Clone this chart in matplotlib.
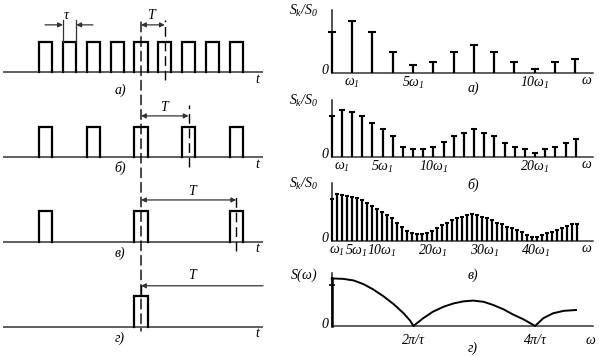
import matplotlib
matplotlib.use("Agg")
import matplotlib.pyplot as plt
from matplotlib.patches import ConnectionPatch

plt.rcParams['font.family'] = ['Liberation Serif', 'DejaVu Serif']
plt.rcParams['font.style'] = 'italic'
plt.rcParams['mathtext.fontset'] = 'custom'
plt.rcParams['mathtext.it'] = 'Liberation Serif:italic'
plt.rcParams['mathtext.rm'] = 'Liberation Serif:italic'

# left: pulse centres, in units of the period of a)
pulses_a = [-4, -3, -2, -1, 0, 1, 2, 3, 4]
pulses_b = [-4, -2, 0, 2, 4]
pulses_c = [-4, 0, 4]
pulses_d = [0]
tau = 0.56
periods = [1, 2, 4]

# right: line spectra S_k/S_0, k = 0, 1, 2, ...
spec_a = [1.0, 1.27, 1.0, 0.5, 0.18, 0.26, 0.5, 0.67, 0.5, 0.26, 0.09, 0.26, 0.34]
spec_b = [1.0, 1.15, 1.08, 1.0, 0.83, 0.67, 0.5, 0.24, 0.18, 0.18, 0.24, 0.37, 0.5,
          0.59, 0.67, 0.59, 0.5, 0.34, 0.24, 0.18, 0.08, 0.18, 0.24, 0.34, 0.42]
spec_c = [1.0, 1.12, 1.10, 1.09, 1.06, 1.02, 0.98, 0.90, 0.84, 0.76, 0.70, 0.62, 0.54,
          0.44, 0.33, 0.24, 0.19, 0.16, 0.16, 0.20, 0.25, 0.32, 0.38, 0.44, 0.50, 0.54,
          0.58, 0.62, 0.64, 0.62, 0.58, 0.54, 0.50, 0.44, 0.40, 0.34, 0.30, 0.26, 0.22,
          0.14, 0.10, 0.10, 0.14, 0.18, 0.22, 0.26, 0.32, 0.36, 0.40, 0.41]

# continuous spectrum of a single pulse (omega in units of 2pi/tau as drawn)
omega_d = [0.0, 0.14, 0.27, 0.39, 0.51, 0.63, 0.76, 0.88, 0.96, 1.0, 1.12, 1.24, 1.37,
           1.49, 1.61, 1.73, 1.86, 1.98, 2.10, 2.22, 2.35, 2.49, 2.59, 2.71, 2.84, 2.99]
S_d = [1.16, 1.15, 1.11, 1.02, 0.89, 0.73, 0.53, 0.31, 0.13, 0.0, 0.19, 0.35, 0.47,
       0.55, 0.60, 0.62, 0.59, 0.51, 0.41, 0.28, 0.16, 0.0, 0.19, 0.31, 0.37, 0.39]

ticks_a = [1, 4, 10]
labels_a = [r'$\omega_1$', r'$5\omega_1$', r'$10\omega_1$']
ticks_b = [1, 5, 10, 20]
labels_b = [r'$\omega_1$', r'$5\omega_1$', r'$10\omega_1$', r'$20\omega_1$']
ticks_c = [1, 5, 10, 20.3, 30.7, 40.9]
labels_c = [r'$\omega_1$', r'$5\omega_1$', r'$10\omega_1$', r'$20\omega_1$',
            r'$30\omega_1$', r'$40\omega_1$']
ticks_d = [1.0, 2.49]
labels_d = [r'$2\pi/\tau$', r'$4\pi/\tau$']

W, H = 599, 357
fig = plt.figure(figsize=(W / 100, H / 100), dpi=100)
FS = 10


def panel(x_left, x_right, x_origin, x_scale, y_base, y_scale, ylo, yhi):
    bottom = y_base - ylo * y_scale
    top = y_base - yhi * y_scale
    ax = fig.add_axes([x_left / W, 1 - bottom / H, (x_right - x_left) / W, (bottom - top) / H])
    ax.set_xlim((x_left - x_origin) / x_scale, (x_right - x_origin) / x_scale)
    ax.set_ylim(ylo, yhi)
    ax.axis('off')
    return ax


def note(ax, s, xy, dx=0, dy=0, ha='center', va='center', fs=FS):
    ax.annotate(s, xy=xy, xytext=(dx, dy), textcoords='offset pixels',
                ha=ha, va=va, fontsize=fs, annotation_clip=False)


def arrow(ax, start, end, style='-|>'):
    ax.annotate('', xy=end, xytext=start, annotation_clip=False,
                arrowprops=dict(arrowstyle=style, color='#333', lw=0.9,
                                mutation_scale=7, shrinkA=0, shrinkB=0))


# ---------------- left column: pulse trains ----------------
left_rows = [(72.3, 30.6), (157.3, 30.0), (241.7, 30.7), (326.7, 31.0)]
left_pulses = [pulses_a, pulses_b, pulses_c, pulses_d]
left_names = ['а)', 'б)', 'в)', 'г)']
left_name_dy = [-18, -11, -12, -12]
lax = []
for (base, sc), pulses, name, ndy in zip(left_rows, left_pulses, left_names, left_name_dy):
    ax = panel(3, 263, 141, 23.8, base, sc, -0.5, 2.0)
    x0, x1 = ax.get_xlim()
    ax.plot([x0, x1], [0, 0], color='#444', lw=1.2)
    for c in pulses:
        ax.plot([c - tau / 2, c - tau / 2, c + tau / 2, c + tau / 2], [0, 1, 1, 0],
                color='k', lw=1.6, solid_joinstyle='miter')
    note(ax, r'$t$', (4.92, 0), dy=-7)
    note(ax, name, (-0.88, 0), dy=ndy)
    lax.append(ax)

dash = (0, (7, 3.5))

# a) tau and T markers
ax = lax[0]
for e in (-3 - tau / 2, -3 + tau / 2):
    ax.plot([e, e], [1, 1.71], color='#333', lw=0.9, clip_on=False)
arrow(ax, (-4.03, 1.55), (-3 - tau / 2, 1.55))
arrow(ax, (-2.02, 1.55), (-3 + tau / 2, 1.55))
note(ax, r'$\tau$', (-3.11, 1.84))
ax.plot([periods[0], periods[0]], [-0.25, 1.71], color='k', lw=1, ls=dash, clip_on=False)
arrow(ax, (0, 1.55), (periods[0], 1.55), '<|-|>')
note(ax, r'$T$', (0.46, 1.87))

# b)
ax = lax[1]
ax.plot([periods[1], periods[1]], [-0.32, 1.74], color='k', lw=1, ls=dash, clip_on=False)
arrow(ax, (0, 1.38), (periods[1], 1.38), '<|-|>')
note(ax, r'$T$', (1.0, 1.68))

# c)
ax = lax[2]
ax.plot([periods[2], periods[2]], [-0.30, 1.59], color='k', lw=1, ls=dash, clip_on=False)
arrow(ax, (0, 1.36), (periods[2], 1.36), '<|-|>')
note(ax, r'$T$', (2.18, 1.64))

# d) period goes to infinity
ax = lax[3]
x1 = ax.get_xlim()[1]
arrow(ax, (x1, 1.32), (0, 1.32))
ax.plot([0, 0], [1, 1.32], color='k', lw=1, clip_on=False)
note(ax, r'$T$', (2.18, 1.67))

con = ConnectionPatch(xyA=(0, 1.64), coordsA=lax[0].transData,
                      xyB=(0, -0.14), coordsB=lax[3].transData,
                      color='k', lw=1, ls=dash)
fig.add_artist(con)

# ---------------- right column: spectra ----------------
right = [
    (spec_a, 20.3, 72.7, 41.0, 1.53, ticks_a, labels_a, 'а)', 16, 5.5, r'$S_k/S_0$'),
    (spec_b, 10.17, 156.7, 41.0, 1.38, ticks_b, labels_b, 'б)', 28, 4.5, r'$S_k/S_0$'),
    (spec_c, 5.0, 241.0, 41.7, 1.39, ticks_c, labels_c, 'в)', 34, 3.5, r'$S_k/S_0$'),
]
for vals, sp, base, sc, yhi, tks, tls, name, ndy, cap, ylab in right:
    ax = panel(331.7, 593.3, 331.7, sp, base, sc, -0.4, yhi)
    x1 = ax.get_xlim()[1]
    ax.plot([0, x1], [0, 0], color='#333', lw=1.1, clip_on=False)
    ax.plot([0, 0], [0, yhi], color='#222', lw=1.1, clip_on=False)
    k = list(range(len(vals)))
    ax.vlines(k, 0, vals, color='k', lw=1.6, clip_on=False)
    ax.plot(k, vals, ls='none', marker='_', ms=cap, mew=1.5, color='k', clip_on=False)
    for t, s in zip(tks, tls):
        note(ax, s, (t, 0), dy=-10)
    ax.annotate(r'$\omega$', xy=(0.976, 0), xycoords=('axes fraction', 'data'),
                xytext=(0, -8), textcoords='offset pixels', ha='center', va='center',
                fontsize=FS)
    ax.annotate(name, xy=(0.54, 0), xycoords=('axes fraction', 'data'),
                xytext=(0, -ndy), textcoords='offset pixels', ha='center', va='center',
                fontsize=FS)
    note(ax, '0', (0, 0), dx=-3, dy=2, ha='right')
    note(ax, ylab, (0, yhi), dx=-14, dy=-1, ha='right')

# d) continuous spectrum
ax = panel(331.7, 593.3, 331.7, 81.7, 326.0, 41.0, -0.4, 1.29)
x1 = ax.get_xlim()[1]
ax.plot([0, x1], [0, 0], color='#333', lw=1.1, clip_on=False)
ax.plot([0, 0], [0, 1.29], color='#222', lw=1.1, clip_on=False)
ax.plot([0, 0], [0, S_d[0]], color='k', lw=1.8, clip_on=False)
ax.plot([0], [1.0], ls='none', marker='_', ms=4, mew=1.2, color='k', clip_on=False)
ax.plot(omega_d, S_d, color='k', lw=1.4, clip_on=False)
for t, s in zip(ticks_d, labels_d):
    note(ax, s, (t, 0), dy=-14)
ax.annotate(r'$\omega$', xy=(0.988, 0), xycoords=('axes fraction', 'data'),
            xytext=(0, -15), textcoords='offset pixels', ha='center', va='center', fontsize=FS)
ax.annotate('г)', xy=(0.54, 0), xycoords=('axes fraction', 'data'),
            xytext=(0, -22), textcoords='offset pixels', ha='center', va='center', fontsize=FS)
note(ax, '0', (0, 0), dx=-3, dy=2, ha='right')
note(ax, r'$S(\omega)$', (0, 1.29), dx=-14, dy=-2, ha='right')

fig.savefig('out.png', dpi=100)
